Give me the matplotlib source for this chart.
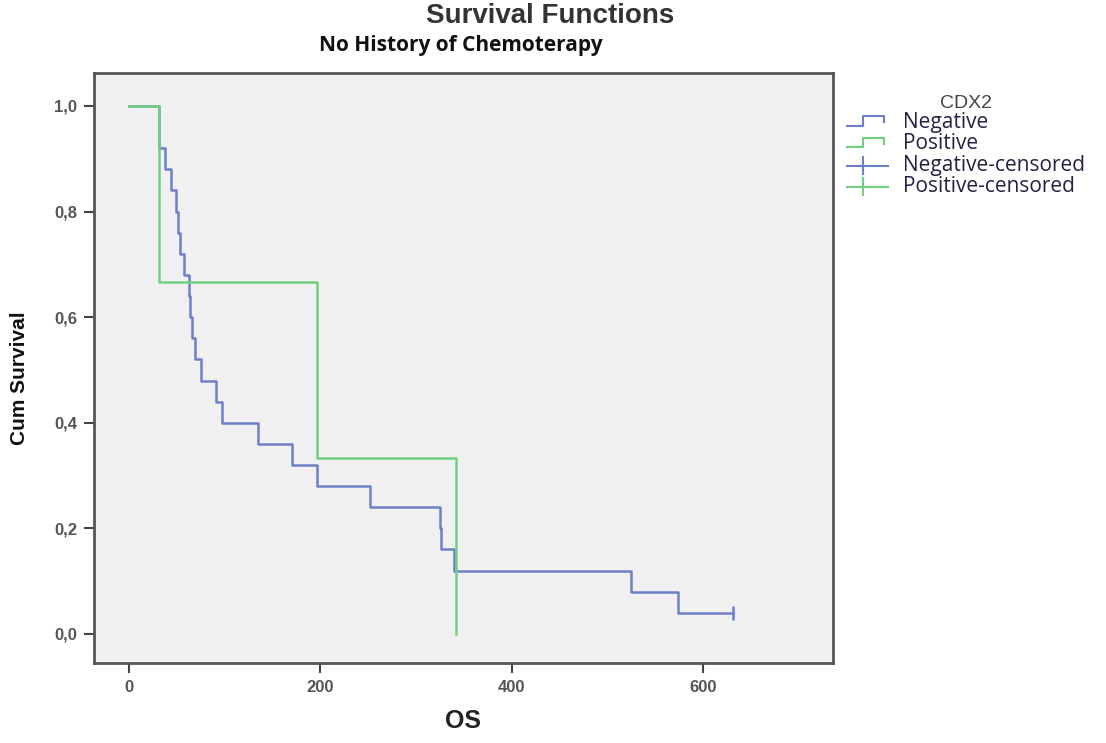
import matplotlib
matplotlib.use("Agg")
import matplotlib.pyplot as plt
from matplotlib.legend_handler import HandlerBase
from matplotlib.lines import Line2D

# ---- data ----
neg_time = [0, 31, 38, 44, 49, 51, 53, 58, 63, 63.5, 66, 69, 75, 91, 97, 135, 170, 197, 252, 325, 326, 340, 525, 574, 631]
neg_surv = [1.0, 0.92, 0.88, 0.84, 0.80, 0.76, 0.72, 0.68, 0.64, 0.60, 0.56, 0.52, 0.48, 0.44, 0.40, 0.36, 0.32, 0.28, 0.24, 0.20, 0.16, 0.12, 0.08, 0.04, 0.04]
neg_censor_time = [631]
neg_censor_surv = [0.04]

pos_time = [0, 31, 197, 342, 342]
pos_surv = [1.0, 0.6667, 0.3333, 0.0, 0.0]

x_ticks = [0, 200, 400, 600]
y_ticks = [0.0, 0.2, 0.4, 0.6, 0.8, 1.0]
y_tick_labels = ["0,0", "0,2", "0,4", "0,6", "0,8", "1,0"]
legend_labels = ["Negative", "Positive", "Negative-censored", "Positive-censored"]

BLUE = "#6d7fc6"
GREEN = "#72cf82"

fig = plt.figure(figsize=(11.06, 7.43), dpi=100)
ax = fig.add_axes([94/1106, 1-663/743, (833-94)/1106, (663-73)/743])
ax.set_facecolor("#f0f0f0")

ax.plot(neg_time, neg_surv, drawstyle="steps-post", color=BLUE, lw=1.8)
ax.plot(neg_censor_time, neg_censor_surv, marker="|", ms=10, mew=1.8, color=BLUE, ls="none")
ax.plot(pos_time, pos_surv, drawstyle="steps-post", color=GREEN, lw=1.8)

ax.set_xlim(-36.6, 736)
ax.set_ylim(-0.055, 1.0625)
ax.set_xticks(x_ticks)
ax.set_xticklabels([str(v) for v in x_ticks])
ax.set_yticks(y_ticks)
ax.set_yticklabels(y_tick_labels)
for s in ax.spines.values():
    s.set_color("#555555")
    s.set_linewidth(2)
ax.tick_params(direction="out", length=7, width=1.5, color="#444444",
               labelcolor="#555555", labelsize=12, pad=5)
for lab in ax.get_xticklabels() + ax.get_yticklabels():
    lab.set_fontweight("bold")
    lab.set_family("Liberation Sans")

ax.set_xlabel("OS", fontsize=18, fontweight="bold", family="Liberation Sans", color="#222222", labelpad=10)
fig.text(20/1106, 1-378/743, "Cum Survival", rotation=90, fontsize=15, fontweight="bold",
         family="Liberation Sans", ha="center", va="center", color="#111111")

fig.text(550/1106, 1-16/743, "Survival Functions", fontsize=20, fontweight="bold",
         family="Liberation Sans", ha="center", va="center", color="#333333")
fig.text(461/1106, 1-45/743, "No History of Chemoterapy", fontsize=15, fontweight="bold",
         family="Open Sans", ha="center", va="center", color="#111111")


class StepHandler(HandlerBase):
    def create_artists(self, legend, orig_handle, xdescent, ydescent, width, height, fontsize, trans):
        c = orig_handle.get_color()
        xs = [0, width*0.4, width*0.4, width*0.9, width*0.9]
        ys = [0.15*height, 0.15*height, 0.8*height, 0.8*height, 0.4*height]
        ln = Line2D(xs, ys, color=c, lw=1.5, transform=trans)
        return [ln]


class CensorHandler(HandlerBase):
    def create_artists(self, legend, orig_handle, xdescent, ydescent, width, height, fontsize, trans):
        c = orig_handle.get_color()
        l1 = Line2D([0, width], [0.35*height, 0.35*height], color=c, lw=1.5, transform=trans)
        l2 = Line2D([width*0.4, width*0.4], [-0.2*height, 0.95*height], color=c, lw=1.5, transform=trans)
        return [l1, l2]


h_neg = Line2D([], [], color=BLUE)
h_pos = Line2D([], [], color=GREEN)
h_negc = Line2D([], [], color=BLUE, marker="|")
h_posc = Line2D([], [], color=GREEN, marker="|")
hmap = {h_neg: StepHandler(), h_pos: StepHandler(), h_negc: CensorHandler(), h_posc: CensorHandler()}
leg = fig.legend([h_neg, h_pos, h_negc, h_posc], legend_labels, handler_map=hmap,
                 loc="upper left", bbox_to_anchor=(832/1106, 1-80/743), frameon=False,
                 title="CDX2", fontsize=15, title_fontsize=14, handlelength=2.0,
                 handletextpad=0.7, labelspacing=0.02, borderpad=0.2)
leg._legend_box.align = "center"
leg.get_title().set_color("#444444")
leg.get_title().set_family("Liberation Sans")
for t in leg.get_texts():
    t.set_family("Open Sans")
    t.set_color("#222244")

fig.savefig("out.png", dpi=100)
